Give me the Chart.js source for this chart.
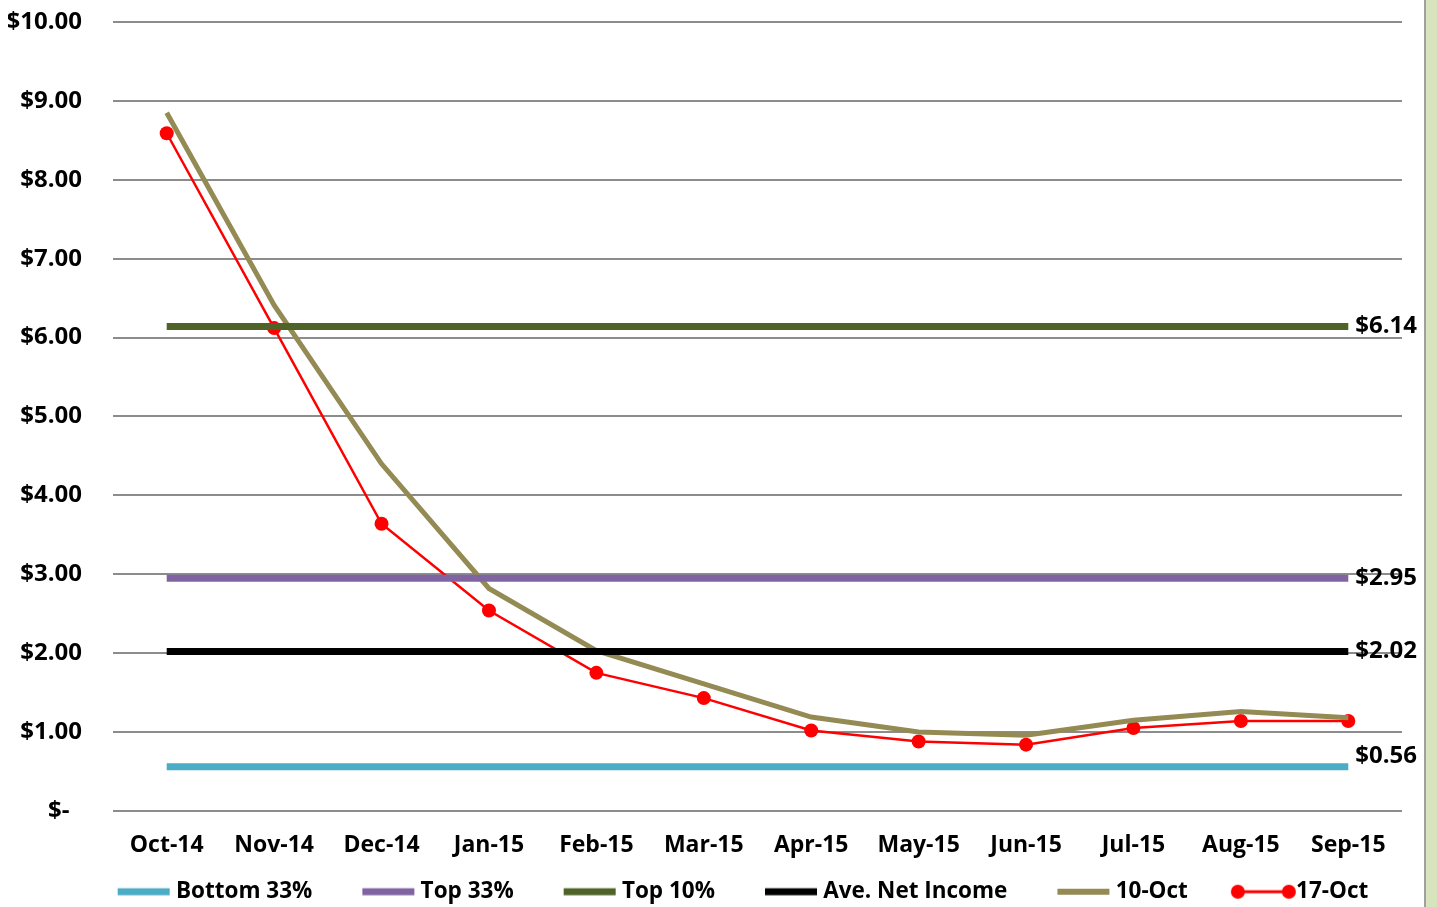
<!DOCTYPE html>
<html>
<head>
<meta charset="utf-8">
<script src="https://cdn.jsdelivr.net/npm/chart.js@4.4.0/dist/chart.umd.min.js"></script>
<style>
    html, body { margin: 0; padding: 0; background: #fff; overflow: hidden; }
    #wrap { position: absolute; left: 0; top: 0; width: 1424px; height: 907px; }
    #side { position: absolute; left: 1424px; top: 0; width: 13px; height: 907px;
            background: #d7e4bd; border-left: 2px solid #a0a0a0; box-sizing: border-box; }
</style>
</head>
<body>
<div id="wrap"><canvas id="chart" width="1424" height="907"></canvas></div>
<div id="side"></div>
<script>
// 数据
const months = ['Oct-14', 'Nov-14', 'Dec-14', 'Jan-15', 'Feb-15', 'Mar-15',
                'Apr-15', 'May-15', 'Jun-15', 'Jul-15', 'Aug-15', 'Sep-15'];
const yTicks = [0, 1, 2, 3, 4, 5, 6, 7, 8, 9, 10];

const bottom33 = 0.56;
const top33 = 2.95;
const top10 = 6.14;
const aveNetIncome = 2.02;

const oct10 = [8.85, 6.41, 4.40, 2.82, 2.03, 1.61, 1.19, 1.00, 0.96, 1.15, 1.26, 1.18];
const oct17 = [8.59, 6.12, 3.64, 2.54, 1.75, 1.43, 1.02, 0.88, 0.84, 1.05, 1.14, 1.14];

const FONT = '"Open Sans", sans-serif';

// 水平参考线
function flat(v) {
    return months.map(() => v);
}

// 图例样本: 图像比图例框宽, 样本靠右, 紧贴文字
const BOX_W = 93;
const IMG_W = 117;
function swatch(color, width, dots) {
    const c = document.createElement('canvas');
    c.width = IMG_W;
    c.height = 16;
    const g = c.getContext('2d');
    g.fillStyle = color;
    g.fillRect(58, 8 - width / 2, 52, width);
    if (dots) {
        g.beginPath();
        g.arc(58, 8, 7, 0, Math.PI * 2);
        g.fill();
        g.beginPath();
        g.arc(109, 8, 7, 0, Math.PI * 2);
        g.fill();
    }
    return c;
}

// 右侧数值标签
const endLabels = {
    id: 'endLabels',
    afterDatasetsDraw(chart) {
        const ctx = chart.ctx;
        ctx.save();
        ctx.font = 'bold 24px ' + FONT;
        ctx.fillStyle = '#000';
        ctx.textBaseline = 'middle';
        ctx.textAlign = 'left';
        chart.data.datasets.forEach((ds, i) => {
            if (!ds.endLabel) return;
            const meta = chart.getDatasetMeta(i);
            const pt = meta.data[meta.data.length - 1];
            const v = ds.data[ds.data.length - 1];
            ctx.fillText('$' + v.toFixed(2), pt.x + 7, pt.y + (ds.labelShift || 0));
        });
        ctx.restore();
    }
};

const refLine = (label, v, color, shift) => ({
    label: label,
    data: flat(v),
    borderColor: color,
    backgroundColor: color,
    borderWidth: 7,
    pointRadius: 0,
    tension: 0,
    endLabel: true,
    labelShift: shift || 0,
    legendIcon: swatch(color, 7, false)
});

new Chart(document.getElementById('chart'), {
    type: 'line',
    data: {
        labels: months,
        datasets: [
            refLine('Bottom 33%', bottom33, '#4bacc6', -11),
            refLine('Top 33%', top33, '#8064a2'),
            refLine('Top 10%', top10, '#4f6228'),
            refLine('Ave. Net Income', aveNetIncome, '#000000'),
            {
                label: '10-Oct',
                data: oct10,
                borderColor: '#948a54',
                backgroundColor: '#948a54',
                borderWidth: 5,
                pointRadius: 0,
                tension: 0,
                legendIcon: swatch('#948a54', 6, false)
            },
            {
                label: '17-Oct',
                data: oct17,
                borderColor: '#ff0000',
                backgroundColor: '#ff0000',
                borderWidth: 2.5,
                pointRadius: 7,
                pointStyle: 'circle',
                pointBackgroundColor: '#ff0000',
                pointBorderWidth: 0,
                tension: 0,
                legendIcon: swatch('#ff0000', 3, true)
            }
        ]
    },
    options: {
        responsive: false,
        animation: false,
        layout: { padding: { left: 8, right: -8, top: 22, bottom: -6 } },
        scales: {
            x: {
                offset: true,
                afterFit: s => {
                    s.height -= 4;
                    s.paddingLeft = 0;
                    s.paddingRight = 22;
                },
                grid: { display: false, drawTicks: false },
                border: { display: false },
                ticks: {
                    padding: 21,
                    color: '#000',
                    font: { family: FONT, size: 23, weight: 'bold' },
                    maxRotation: 0
                }
            },
            y: {
                min: 0,
                max: 10,
                afterBuildTicks: s => { s.ticks = yTicks.map(v => ({ value: v })); },
                afterFit: s => {
                    s.width = 105;
                    s.paddingTop = 0;
                    s.paddingBottom = 0;
                },
                grid: { color: '#8c8c8c', lineWidth: 2, drawTicks: false },
                border: { display: false },
                ticks: {
                    padding: 31,
                    color: '#000',
                    font: { family: FONT, size: 24, weight: 'bold' },
                    callback: v => v === 0 ? '$-' + '  ' : '$' + v.toFixed(2)
                }
            }
        },
        plugins: {
            legend: {
                position: 'bottom',
                labels: {
                    usePointStyle: true,
                    pointStyleWidth: BOX_W,
                    boxHeight: 16,
                    padding: 4,
                    color: '#000',
                    font: { family: FONT, size: 22.5, weight: 'bold' },
                    generateLabels: chart => Chart.defaults.plugins.legend.labels.generateLabels(chart)
                        .map(item => Object.assign(item, {
                            pointStyle: chart.data.datasets[item.datasetIndex].legendIcon
                        }))
                }
            },
            tooltip: { enabled: false }
        }
    },
    plugins: [endLabels]
});
</script>
</body>
</html>
